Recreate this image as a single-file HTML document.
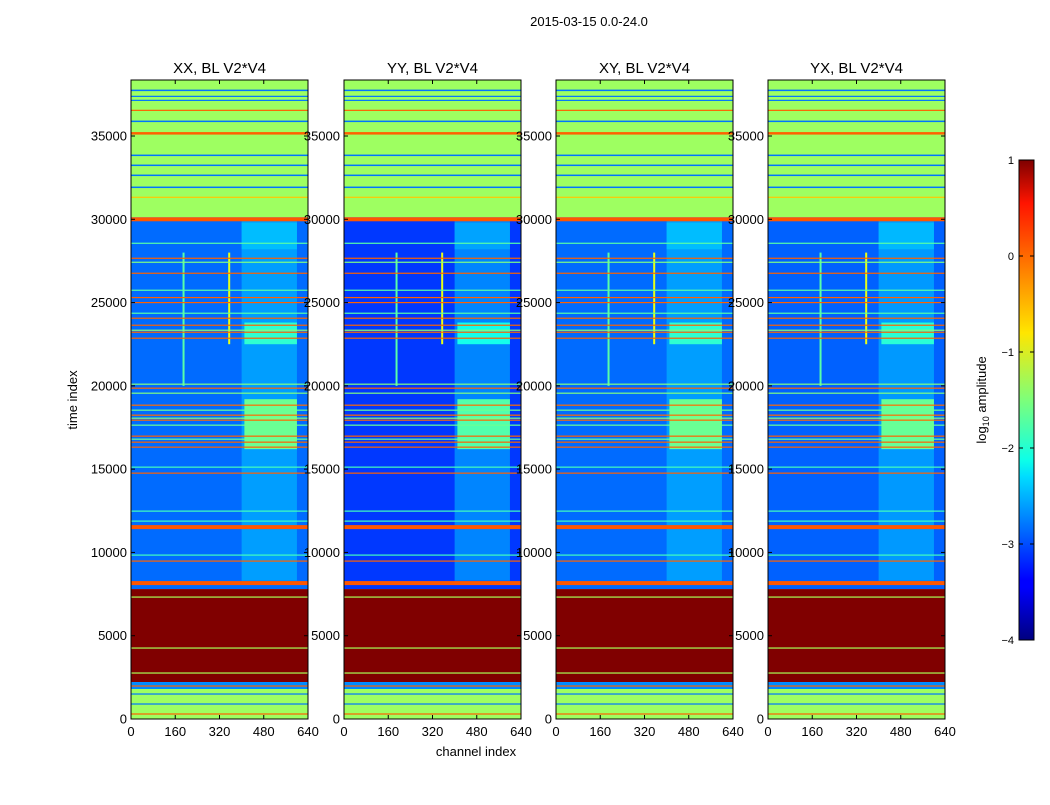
<!DOCTYPE html>
<html><head><meta charset="utf-8">
<style>
body{margin:0;background:#fff;font-family:"Liberation Sans",sans-serif;}
svg text{font-family:"Liberation Sans",sans-serif;}
</style></head>
<body>
<svg id="chart" width="1050" height="800" xmlns="http://www.w3.org/2000/svg">
<rect width="1050" height="800" fill="#fff"/>
<text x="589" y="26" font-size="13" text-anchor="middle">2015-03-15 0.0-24.0</text>
<text transform="translate(77,400) rotate(-90)" font-size="13" text-anchor="middle">time index</text>
<text x="476" y="756" font-size="13" text-anchor="middle">channel index</text>
<g id="panels"></g>
<defs>
<linearGradient id="jet" x1="0" y1="1" x2="0" y2="0">
<stop offset="0" stop-color="#00007f"/><stop offset="0.11" stop-color="#0000ff"/><stop offset="0.125" stop-color="#0000ff"/>
<stop offset="0.34" stop-color="#00dcff"/><stop offset="0.375" stop-color="#0dffe8"/><stop offset="0.5" stop-color="#7dff7a"/>
<stop offset="0.64" stop-color="#ffe600"/><stop offset="0.91" stop-color="#ff1400"/><stop offset="1" stop-color="#7f0000"/>
</linearGradient>
</defs>
<g>
<rect x="1019" y="160" width="15" height="480" fill="url(#jet)" stroke="#000" stroke-width="1"/>
</g>
<g id="cbticks"></g>
<text transform="translate(986,400) rotate(-90)" font-size="13" text-anchor="middle">log<tspan font-size="9" dy="3">10</tspan><tspan dy="-3"> amplitude</tspan></text>
</svg>
<script>
// ---- data ----
const panelTitles = ["XX, BL V2*V4","YY, BL V2*V4","XY, BL V2*V4","YX, BL V2*V4"];
const blueBase = [-2.85, -3.1, -2.85, -2.9];
const regionStart = [30120, 7800, 2220, 1800, 0];
const regionEnd   = [38340, 30120, 7800, 2220, 1800];
const regionValue = [-1.35, null, 1.0, -2.7, -1.35]; // null => panel blue base
const lineTime  = [37740,37380,37140,35880,33840,33240,32640,31920,36540,35160,31320,30000,
  27660,26760,25300,25000,24060,23640,23220,22860,28560,27420,25740,24360,23340,
  20100,19860,19560,18840,18540,18240,18060,17940,17640,16980,16800,16620,16320,
  15120,14760,12480,11880,11520,9840,9480,8160,7320,4260,2760,1980,1500,900,300];
const lineValue = [-2.8,-2.8,-2.8,-2.8,-2.8,-2.8,-2.8,-2.8,-0.1,-0.1,-0.6,-0.05,
  -0.1,-0.1,-0.1,-0.1,-0.1,-0.1,-0.1,-0.1,-1.7,-1.5,-1.7,-1.7,-1.5,
  -1.5,-0.1,-1.5,-0.15,-1.6,-0.15,-1.5,-0.15,-1.6,-0.1,-1.6,-0.1,-0.1,
  -1.8,-0.1,-1.8,-1.8,-0.05,-1.8,-0.1,-0.05,-1.3,-1.3,-1.3,-0.1,-2.8,-2.8,-0.1];
const lineThick = [90,60,60,90,90,90,90,90,60,150,60,240,
  60,60,60,60,60,60,60,60,60,60,60,60,60,
  60,60,60,60,60,60,60,60,60,60,60,60,60,
  60,60,60,60,240,60,60,240,60,60,60,60,60,60,60];
const featChan0 = [400, 410, 410, 400];
const featChan1 = [600, 600, 600, 600];
const featT0    = [8300, 16200, 22500, 28200];
const featT1    = [30000, 19200, 23800, 29800];
const featValue = [-2.6, -1.6, -1.9, -2.45];
const vlineChan = [190, 355];
const vlineT0   = [20000, 22500];
const vlineT1   = [28000, 28000];
const vlineValue= [-1.7, -1.0];
const xTicks = [0,160,320,480,640];
const yTicks = [0,5000,10000,15000,20000,25000,30000,35000];
const cbTicks = [1,0,-1,-2,-3,-4];
const cbTickLabels = ["1","0","\u22121","\u22122","\u22123","\u22124"];
// ---- layout ----
const NS="http://www.w3.org/2000/svg";
const panelLeft=[131,344,556,768], PW=177, PT=80, PB=719;
const yS=t=>PB - t/35000*583;
function jet(v){const x=Math.max(0,Math.min(1,(v+4)/5));
  const c=f=>Math.round(255*Math.max(0,Math.min(1,f)));
  return `rgb(${c(1.5-Math.abs(4*x-3))},${c(1.5-Math.abs(4*x-2))},${c(1.5-Math.abs(4*x-1))})`;}
function mk(tag,attrs,parent){const e=document.createElementNS(NS,tag);for(const k in attrs)e.setAttribute(k,attrs[k]);parent.appendChild(e);return e;}
const root=document.getElementById('panels');
panelTitles.forEach((title,p)=>{
  const L=panelLeft[p]; const xS=c=>L+c/640*PW;
  const g=mk('g',{},root);
  
  
  const cid='clip'+p;
  const cp=mk('clipPath',{id:cid},g); mk('rect',{x:L,y:PT,width:PW,height:PB-PT},cp);
  const hm=mk('g',{'clip-path':`url(#${cid})`},g);
  regionStart.forEach((s,i)=>{
    const v=regionValue[i]===null?blueBase[p]:regionValue[i];
    const r=mk('rect',{x:L,y:yS(regionEnd[i]),width:PW,height:yS(s)-yS(regionEnd[i]),fill:jet(v)},hm);
    
    
  });
  featT0.forEach((s,i)=>{
    const r=mk('rect',{x:xS(featChan0[i]),y:yS(featT1[i]),width:xS(featChan1[i])-xS(featChan0[i]),height:yS(s)-yS(featT1[i]),fill:jet(featValue[i]+(blueBase[p]+2.85)*0.5)},hm);
    
    
  });
  vlineChan.forEach((c,i)=>{
    const r=mk('rect',{x:xS(c)-1,y:yS(vlineT1[i]),width:2,height:yS(vlineT0[i])-yS(vlineT1[i]),fill:jet(vlineValue[i])},hm);
    
    
  });
  lineTime.forEach((t,i)=>{
    const h=Math.max(1.2,lineThick[i]/60);
    const r=mk('rect',{x:L,y:yS(t)-h/2,width:PW,height:h,fill:jet(lineValue[i])},hm);
    
    
  });
  const fr=mk('rect',{x:L,y:PT,width:PW,height:PB-PT,fill:'none',stroke:'#000','stroke-width':1},g);
  
  
  const tt=mk('text',{x:L+PW/2,y:PT-7,'font-size':15,'text-anchor':'middle'},g); tt.textContent=title;
  
  
  xTicks.forEach(c=>{const x=xS(c);
    mk('line',{x1:x,x2:x,y1:PB,y2:PB-4,stroke:'#000'},g);mk('line',{x1:x,x2:x,y1:PT,y2:PT+4,stroke:'#000'},g);
    const t=mk('text',{x:x,y:PB+17,'font-size':13,'text-anchor':'middle'},g);t.textContent=c;
    
    });
  yTicks.forEach(v=>{const y=yS(v);
    mk('line',{x1:L,x2:L+4,y1:y,y2:y,stroke:'#000'},g);mk('line',{x1:L+PW,x2:L+PW-4,y1:y,y2:y,stroke:'#000'},g);
    const t=mk('text',{x:L-4,y:y+4.5,'font-size':13,'text-anchor':'end'},g);t.textContent=v;
    
    });
});
const cbg=document.getElementById('cbticks');
cbTicks.forEach((v,i)=>{const y=640-(v+4)/5*480;
  mk('line',{x1:1019,x2:1023,y1:y,y2:y,stroke:'#000'},cbg);mk('line',{x1:1034,x2:1030,y1:y,y2:y,stroke:'#000'},cbg);
  const t=mk('text',{x:1014,y:y+4,'font-size':11,'text-anchor':'end'},cbg);t.textContent=cbTickLabels[i];
  
  });
</script>
</body></html>
